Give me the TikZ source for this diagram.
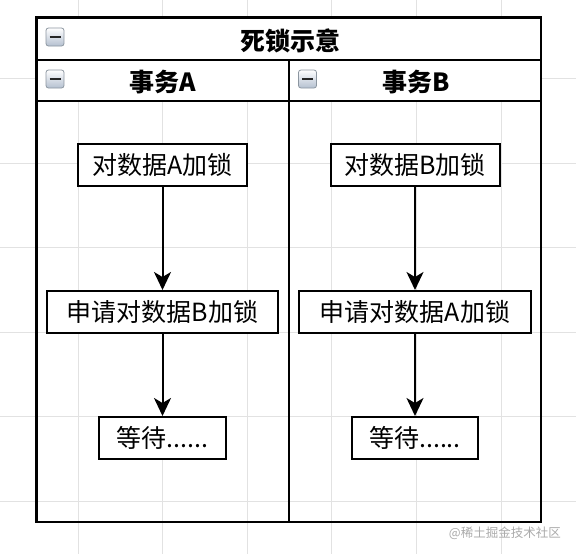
\documentclass[tikz,border=0pt]{standalone}
\usepackage{fontspec}
\setmainfont{Noto Sans CJK SC}
\usetikzlibrary{arrows.meta,shadings}
\definecolor{gridc}{RGB}{226,226,226}
\definecolor{iconedge}{RGB}{140,150,160}
\definecolor{iconbot}{RGB}{180,192,208}
\definecolor{wmc}{RGB}{170,170,170}
\tikzset{
  gridline/.style={draw=gridc, line width=0.9pt},
  lane/.style={draw=black, line width=2.5pt},
  stepbox/.style={draw=black, line width=2pt, fill=white, minimum height=42pt, inner sep=0pt, font=\fontsize{25}{29}\selectfont},
  head/.style={font=\bfseries\fontsize{25}{29}\selectfont, inner sep=0pt},
  flow/.style={draw=black, line width=2pt, -{Stealth[length=18pt,width=17pt,inset=5pt]}},
  iconbox/.style={draw=iconedge, line width=0.8pt, rounded corners=2.5pt, top color=white, bottom color=iconbot, minimum size=18pt, inner sep=0pt},
  minusbar/.style={draw=black!85, line width=2pt},
  watermark/.style={font=\fontsize{12.5}{14}\selectfont, text=wmc, inner sep=0pt}
}
\begin{document}
\begin{tikzpicture}[x=1pt,y=-1pt]
\useasboundingbox (0,0) rectangle (576,554);
\fill[white] (0,0) rectangle (576,554);
% grid
\foreach \i in {0,...,5} {
  \draw[gridline] ({78+84.6*\i},0) -- ({78+84.6*\i},554);
  \draw[gridline] (0,{78.5+84.6*\i}) -- (576,{78.5+84.6*\i});
}
% header fills
\fill[white] (36.5,17.5) rectangle (541,101);
% pool and lanes
\draw[lane] (36.5,17.5) rectangle (541,522);
\draw[lane] (36.5,60) -- (541,60);
\draw[lane] (36.5,101) -- (541,101);
\draw[lane] (289,60) -- (289,522);
% headers
\node[head] (title) at (290,41) {死锁示意};
\node[head] (hA) at (163,82) {事务A};
\node[head] (hB) at (416,82) {事务B};
% icons
\node[iconbox] (i1) at (55,37) {};
\node[iconbox] (i2) at (55,79) {};
\node[iconbox] (i3) at (307.5,79) {};
\foreach \n in {i1,i2,i3} {
  \draw[minusbar] ([xshift=-5.5pt]\n.center) -- ([xshift=5.5pt]\n.center);
}
% steps
\node[stepbox, minimum width=169pt] (a1) at (162.5,165) {对数据A加锁};
\node[stepbox, minimum width=231pt] (a2) at (162.5,312) {申请对数据B加锁};
\node[stepbox, minimum width=127pt] (a3) at (162.5,438) {等待......};
\node[stepbox, minimum width=169pt] (b1) at (415,165) {对数据B加锁};
\node[stepbox, minimum width=232pt] (b2) at (415,312) {申请对数据A加锁};
\node[stepbox, minimum width=126pt] (b3) at (415,438) {等待......};
% connectors
\draw[flow] (a1) -- (a2);
\draw[flow] (a2) -- (a3);
\draw[flow] (b1) -- (b2);
\draw[flow] (b2) -- (b3);
% watermark
\node[watermark, anchor=east] (wm) at (561,533) {@稀土掘金技术社区};
\end{tikzpicture}
\end{document}
